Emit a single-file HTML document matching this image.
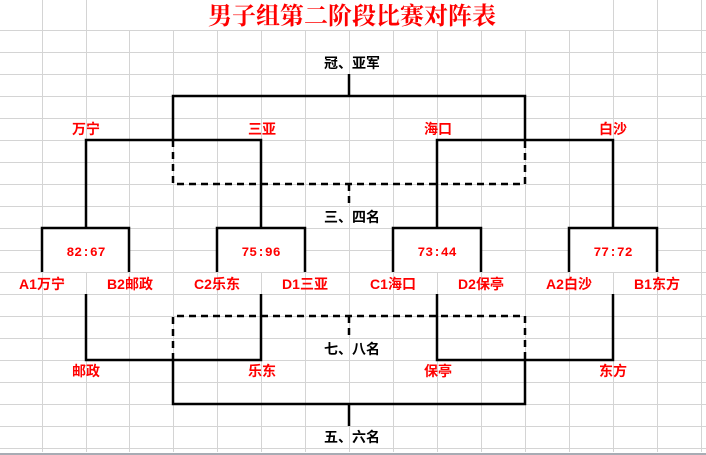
<!DOCTYPE html>
<html><head><meta charset="utf-8"><style>
html,body{margin:0;padding:0;background:#fff;}
svg{display:block;}
</style></head><body>
<svg width="706" height="455" xmlns="http://www.w3.org/2000/svg" style="font-family:'Liberation Sans','Noto Sans CJK SC',sans-serif">
<g stroke="#d4d4d4" stroke-width="1">
<line x1="42.5" y1="0" x2="42.5" y2="452"/><line x1="86.5" y1="0" x2="86.5" y2="452"/>
<line x1="129.5" y1="30" x2="129.5" y2="452"/><line x1="173.5" y1="30" x2="173.5" y2="452"/>
<line x1="217.5" y1="30" x2="217.5" y2="452"/><line x1="261.5" y1="30" x2="261.5" y2="452"/>
<line x1="305.5" y1="30" x2="305.5" y2="452"/><line x1="349.5" y1="30" x2="349.5" y2="452"/>
<line x1="393.5" y1="30" x2="393.5" y2="452"/><line x1="437.5" y1="30" x2="437.5" y2="452"/>
<line x1="481.5" y1="30" x2="481.5" y2="452"/><line x1="525.5" y1="30" x2="525.5" y2="452"/>
<line x1="569.5" y1="30" x2="569.5" y2="452"/><line x1="613.5" y1="0" x2="613.5" y2="452"/>
<line x1="657.5" y1="0" x2="657.5" y2="452"/><line x1="701.5" y1="0" x2="701.5" y2="452"/>
<line x1="0" y1="30.5" x2="706" y2="30.5"/><line x1="0" y1="52.5" x2="706" y2="52.5"/>
<line x1="0" y1="74.5" x2="706" y2="74.5"/><line x1="0" y1="96.5" x2="706" y2="96.5"/>
<line x1="0" y1="118.5" x2="706" y2="118.5"/><line x1="0" y1="140.5" x2="706" y2="140.5"/>
<line x1="0" y1="162.5" x2="706" y2="162.5"/><line x1="0" y1="184.5" x2="706" y2="184.5"/>
<line x1="0" y1="206.5" x2="706" y2="206.5"/><line x1="0" y1="228.5" x2="706" y2="228.5"/>
<line x1="0" y1="250.5" x2="706" y2="250.5"/><line x1="0" y1="272.5" x2="706" y2="272.5"/>
<line x1="0" y1="294.5" x2="706" y2="294.5"/><line x1="0" y1="316.5" x2="706" y2="316.5"/>
<line x1="0" y1="338.5" x2="706" y2="338.5"/><line x1="0" y1="360.5" x2="706" y2="360.5"/>
<line x1="0" y1="382.5" x2="706" y2="382.5"/><line x1="0" y1="404.5" x2="706" y2="404.5"/>
<line x1="0" y1="426.5" x2="706" y2="426.5"/><line x1="0" y1="448.5" x2="706" y2="448.5"/>
</g>
<line x1="0" y1="454" x2="706" y2="454" stroke="#a8acb4" stroke-width="2"/>
<g fill="#fff">
<rect x="87" y="0" width="526" height="30"/>
<rect x="43" y="229" width="86" height="43"/><rect x="218" y="229" width="87" height="43"/>
<rect x="394" y="229" width="87" height="43"/><rect x="570" y="229" width="87" height="43"/>
</g>
<g stroke="#000" stroke-width="2.5" fill="none">
<path d="M349 74V96M173 140V96H525V140"/>
<path d="M86 228V140H261V228M437 228V140H613V228"/>
<path d="M42 272V228H129V272M217 272V228H305V272M393 272V228H481V272M569 272V228H657V272"/>
<path d="M86 294V360H261V294M437 294V360H613V294"/>
<path d="M173 360V404H525V360M349 404V426"/>
</g>
<g stroke="#000" stroke-width="2.5" fill="none" stroke-dasharray="7,5">
<path d="M173 140V184H525V140M349 184V206"/>
<path d="M173 360V316H525V360M349 316V338"/>
</g>
<text x="352" y="24" font-size="24" fill="#f00" text-anchor="middle" style="font-family:'Noto Serif CJK SC',serif;font-weight:bold">男子组第二阶段比赛对阵表</text>
<g font-size="14" font-weight="bold" fill="#000" text-anchor="middle">
<text x="352" y="68">冠、亚军</text>
<text x="352" y="222">三、四名</text>
<text x="352" y="354">七、八名</text>
<text x="352" y="442">五、六名</text>
</g>
<g font-size="14" font-weight="bold" fill="#f00" text-anchor="middle">
<text x="86" y="134">万宁</text><text x="262" y="134">三亚</text>
<text x="438" y="134">海口</text><text x="613" y="134">白沙</text>
<text x="86" y="376">邮政</text><text x="262" y="376">乐东</text>
<text x="438" y="376">保亭</text><text x="613" y="376">东方</text>
<text x="42" y="289">A1万宁</text><text x="130" y="289">B2邮政</text>
<text x="217" y="289">C2乐东</text><text x="305" y="289">D1三亚</text>
<text x="393" y="289">C1海口</text><text x="481" y="289">D2保亭</text>
<text x="569" y="289">A2白沙</text><text x="657" y="289">B1东方</text>
</g>
<g font-size="13" fill="#f00" text-anchor="middle" style="font-family:'Liberation Mono',monospace;font-weight:bold">
<text x="86" y="256">82:67</text><text x="261" y="256">75:96</text>
<text x="437" y="256">73:44</text><text x="613" y="256">77:72</text>
</g>
</svg>
</body></html>
